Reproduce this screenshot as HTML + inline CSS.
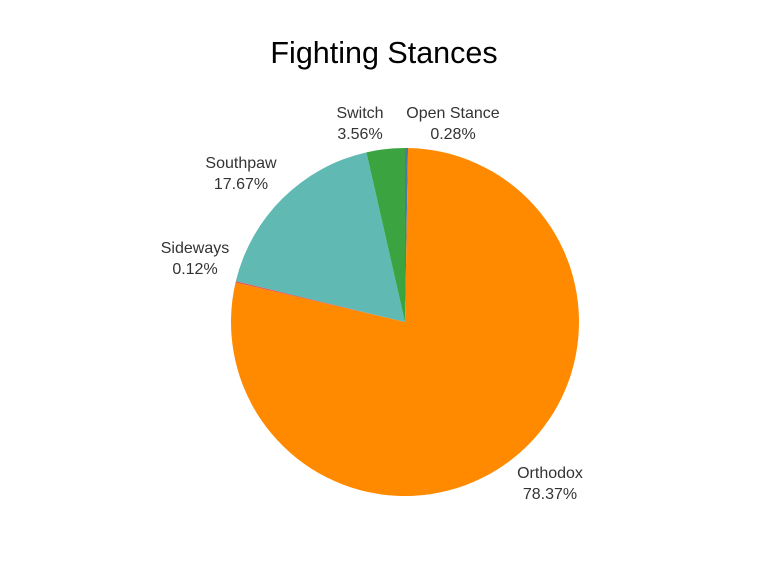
<!DOCTYPE html>
<html><head><meta charset="utf-8">
<style>
html,body{margin:0;padding:0;background:#fff;}
svg{display:block;font-family:"Liberation Sans",sans-serif;}
</style></head>
<body>
<svg id="chart" width="768" height="576">
<text x="384" y="63" text-anchor="middle" font-size="30.5" fill="#000">Fighting Stances</text>
<g id="slices"></g>
<g id="labels"></g>
</svg>
<script>
const categories = ["Open Stance","Orthodox","Sideways","Southpaw","Switch"];
const values = [0.28,78.37,0.12,17.67,3.56];
const valueLabels = ["0.28%","78.37%","0.12%","17.67%","3.56%"];
const colors = ["#4e79a7","#ff8a00","#e15759","#60b9b3","#3ba440"];
const labelPos = [[453,113],[550,473],[195,248],[241,163],[360,113]];
const cx=405, cy=322, r=174;
const ns="http://www.w3.org/2000/svg";
const total=values.reduce((a,b)=>a+b,0);
function pt(frac){const a=frac*2*Math.PI;return [cx+r*Math.sin(a), cy-r*Math.cos(a)];}
let acc=0;
const gs=document.getElementById('slices'), gl=document.getElementById('labels');
values.forEach((v,i)=>{
  const s=acc/total, e=(acc+v)/total; acc+=v;
  const [x1,y1]=pt(s),[x2,y2]=pt(e);
  const p=document.createElementNS(ns,'path');
  p.setAttribute('d',`M${cx},${cy}L${x1},${y1}A${r},${r} 0 ${e-s>0.5?1:0} 1 ${x2},${y2}Z`);
  p.setAttribute('fill',colors[i]);
  
  
  gs.appendChild(p);
  const t=document.createElementNS(ns,'text');
  t.setAttribute('x',labelPos[i][0]);t.setAttribute('y',labelPos[i][1]+5);
  t.setAttribute('text-anchor','middle');t.setAttribute('font-size','16');t.setAttribute('fill','#333');
  
  
  const t1=document.createElementNS(ns,'tspan');t1.setAttribute('x',labelPos[i][0]);t1.textContent=categories[i];
  const t2=document.createElementNS(ns,'tspan');t2.setAttribute('x',labelPos[i][0]);t2.setAttribute('dy','21');t2.textContent=valueLabels[i];
  t.appendChild(t1);t.appendChild(t2);gl.appendChild(t);
});
</script>
</body></html>
